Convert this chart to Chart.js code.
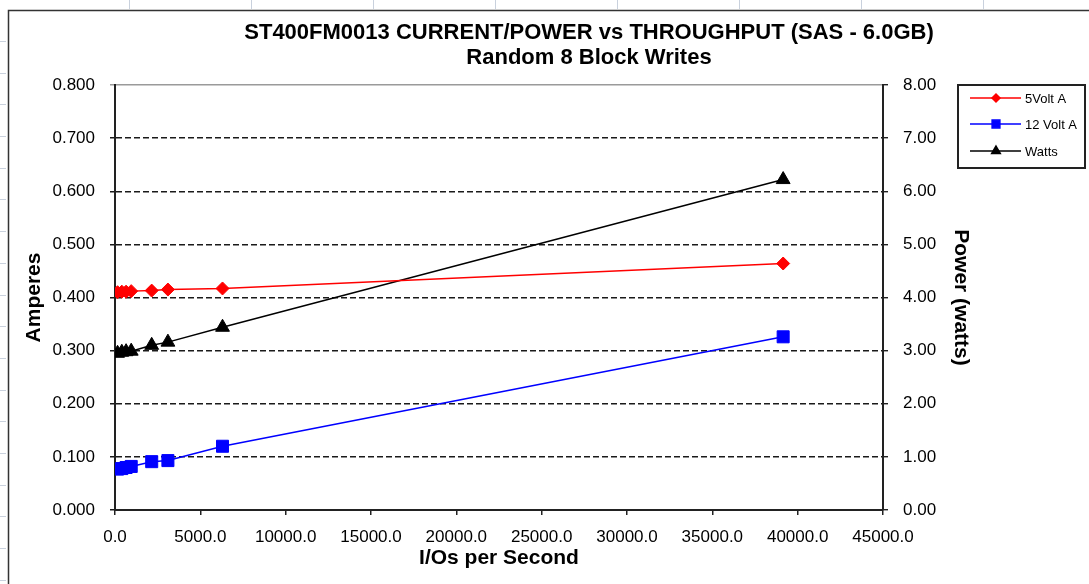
<!DOCTYPE html>
<html>
<head>
<meta charset="utf-8">
<script src="https://cdn.jsdelivr.net/npm/chart.js@4/dist/chart.umd.min.js"></script>
<style>
html,body{margin:0;padding:0;background:#fff;}
#wrap{width:1089px;height:584px;position:relative;}
</style>
</head>
<body>
<div id="wrap"><canvas id="c" width="1089" height="584"></canvas></div>
<script>
// ---- Data ----
const TITLE = "ST400FM0013 CURRENT/POWER vs THROUGHPUT (SAS - 6.0GB)";
const SUBTITLE = "Random 8 Block Writes";
const X_TITLE = "I/Os per Second";
const Y_LEFT_TITLE = "Amperes";
const Y_RIGHT_TITLE = "Power (watts)";
const seriesLabels = ["5Volt A", "12 Volt A", "Watts"];
const iops     = [150, 400, 650, 950, 2150, 3100, 6300, 39150];
const amps5V   = [0.410, 0.411, 0.411, 0.412, 0.413, 0.415, 0.417, 0.464];
const amps12V  = [0.077, 0.078, 0.080, 0.082, 0.091, 0.093, 0.120, 0.326];
const watts    = [2.95, 2.97, 2.98, 2.99, 3.10, 3.16, 3.44, 6.22];

const FONT = "'Liberation Sans', Arial, sans-serif";
const pts = (ys) => iops.map((x, i) => ({x: x, y: ys[i]}));

const decor = {
  id: 'decor',
  beforeDraw(chart) {
    const ctx = chart.ctx;
    ctx.save();
    ctx.fillStyle = '#fff';
    ctx.fillRect(0, 0, chart.width, chart.height);
    // spreadsheet cell marks
    ctx.strokeStyle = '#c9d1dd';
    ctx.lineWidth = 1;
    [129, 251, 373, 495, 617, 739, 861, 983].forEach(x => {
      ctx.beginPath(); ctx.moveTo(x + 0.5, 0); ctx.lineTo(x + 0.5, 9); ctx.stroke();
    });
    for (let y = 41; y < chart.height; y += 31.7) {
      ctx.beginPath(); ctx.moveTo(0, Math.round(y) + 0.5); ctx.lineTo(6, Math.round(y) + 0.5); ctx.stroke();
    }
    // outer frame
    ctx.strokeStyle = '#333';
    ctx.lineWidth = 1.5;
    ctx.beginPath();
    ctx.moveTo(8.5, chart.height);
    ctx.lineTo(8.5, 10.5);
    ctx.lineTo(chart.width, 10.5);
    ctx.stroke();
    ctx.restore();
  },
  afterDraw(chart) {
    const ctx = chart.ctx;
    ctx.save();
    // titles
    ctx.fillStyle = '#000';
    ctx.textAlign = 'center';
    ctx.textBaseline = 'middle';
    ctx.font = "bold 22px " + FONT;
    ctx.fillText(TITLE, 589, 33);
    ctx.fillText(SUBTITLE, 589, 58);
    // legend box
    ctx.strokeStyle = '#222';
    ctx.lineWidth = 2;
    ctx.strokeRect(958, 85, 127, 83);
    const rows = [98, 124, 151];
    chart.data.datasets.forEach((ds, i) => {
      const y = rows[i];
      ctx.strokeStyle = ds.borderColor;
      ctx.fillStyle = ds.backgroundColor;
      ctx.lineWidth = 1.5;
      ctx.beginPath(); ctx.moveTo(970, y); ctx.lineTo(1021, y); ctx.stroke();
      const r = ds.pointStyle === 'rectRot' ? 4 : (ds.pointStyle === 'rect' ? 5.5 : 5);
      Chart.helpers.drawPoint(ctx, {pointStyle: ds.pointStyle, radius: r, rotation: 0, borderWidth: 1}, 996, y);
      ctx.fillStyle = '#000';
      ctx.textAlign = 'left';
      ctx.font = "13px " + FONT;
      ctx.fillText(ds.label, 1025, y + 1);
    });
    ctx.restore();
  }
};

new Chart(document.getElementById('c'), {
  type: 'line',
  data: {
    datasets: [
      {label: seriesLabels[0], data: pts(amps5V), yAxisID: 'y', borderColor: '#ff0000', backgroundColor: '#ff0000',
       pointStyle: 'rectRot', pointRadius: 6.5, pointBorderWidth: 1, borderWidth: 1.5, tension: 0},
      {label: seriesLabels[1], data: pts(amps12V), yAxisID: 'y', borderColor: '#0000ff', backgroundColor: '#0000ff',
       pointStyle: 'rect', pointRadius: 8.5, pointBorderWidth: 1, borderWidth: 1.5, tension: 0},
      {label: seriesLabels[2], data: pts(watts), yAxisID: 'y1', borderColor: '#000000', backgroundColor: '#000000',
       pointStyle: 'triangle', pointRadius: 8, pointBorderWidth: 1, borderWidth: 1.5, tension: 0}
    ]
  },
  options: {
    responsive: false,
    animation: false,
    devicePixelRatio: 1,
    layout: {padding: {left: 18, right: 112, top: 85, bottom: 9}},
    plugins: {legend: {display: false}, title: {display: false}, tooltip: {enabled: false}},
    scales: {
      x: {
        type: 'linear', position: 'bottom', min: 0, max: 45000,
        afterFit: (s) => { s.height = 65; },
        ticks: {stepSize: 5000, padding: 12, color: '#000', font: {family: FONT, size: 17},
                callback: (v) => Number(v).toFixed(1), maxRotation: 0, autoSkip: false},
        grid: {drawOnChartArea: false, drawTicks: true, tickLength: 5, color: '#222', lineWidth: 1.5},
        border: {display: true, color: '#222', width: 2},
        title: {display: true, text: X_TITLE, color: '#000', font: {family: FONT, size: 21, weight: 'bold'}, padding: {top: 4, bottom: 4}}
      },
      y: {
        type: 'linear', position: 'left', min: 0, max: 0.8,
        afterFit: (s) => { s.width = 97; },
        ticks: {stepSize: 0.1, padding: 15, color: '#000', font: {family: FONT, size: 17},
                callback: (v) => Number(v).toFixed(3)},
        grid: {drawOnChartArea: true, drawTicks: true, tickLength: 5, lineWidth: 1.5,
               color: (c) => (c.tick && c.tick.value > 0.79) ? '#9a9a9a' : '#1a1a1a'},
        border: {display: true, color: '#222', width: 2,
                 dash: (c) => (c.tick && c.tick.value > 0.79) ? [] : [6, 3]},
        title: {display: true, text: Y_LEFT_TITLE, color: '#000', font: {family: FONT, size: 21, weight: 'bold'}, padding: {top: 4, bottom: 4}}
      },
      y1: {
        type: 'linear', position: 'right', min: 0, max: 8,
        afterFit: (s) => { s.width = 94; },
        ticks: {stepSize: 1, padding: 15, color: '#000', font: {family: FONT, size: 17},
                callback: (v) => Number(v).toFixed(2)},
        grid: {drawOnChartArea: false, drawTicks: true, tickLength: 5, color: '#222', lineWidth: 1.4},
        border: {display: true, color: '#222', width: 2},
        title: {display: true, text: Y_RIGHT_TITLE, color: '#000', font: {family: FONT, size: 21, weight: 'bold'}, padding: {top: 4, bottom: 4}}
      }
    }
  },
  plugins: [decor]
});
</script>
</body>
</html>
